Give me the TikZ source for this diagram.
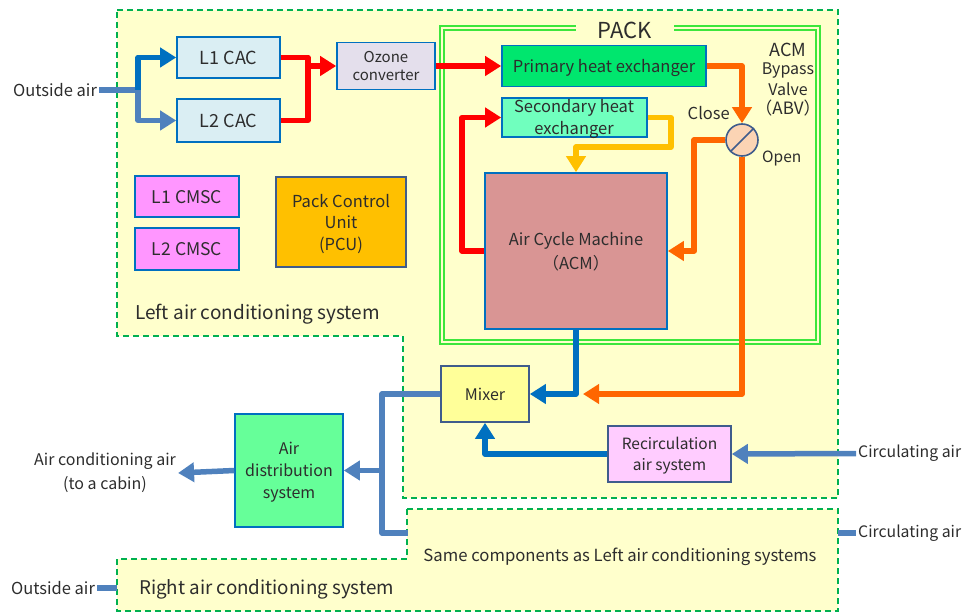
\documentclass[tikz,border=0pt]{standalone}
\usepackage{fontspec}
\setmainfont{Noto Sans CJK JP}
\usetikzlibrary{arrows.meta}
\definecolor{bgyel}{RGB}{255,255,204}
\definecolor{dgreen}{RGB}{0,176,80}
\definecolor{pgreen}{RGB}{60,230,60}
\definecolor{bblue}{RGB}{0,112,192}
\definecolor{sblue}{RGB}{79,129,189}
\definecolor{nblue}{RGB}{63,92,140}
\definecolor{txt}{RGB}{45,45,45}
\definecolor{cacfill}{RGB}{218,238,243}
\definecolor{ozfill}{RGB}{228,223,236}
\definecolor{primfill}{RGB}{0,230,110}
\definecolor{secfill}{RGB}{112,255,190}
\definecolor{acmfill}{RGB}{217,149,148}
\definecolor{cmscfill}{RGB}{255,150,255}
\definecolor{pcufill}{RGB}{255,192,0}
\definecolor{mixfill}{RGB}{255,255,153}
\definecolor{recfill}{RGB}{255,204,255}
\definecolor{adsfill}{RGB}{102,255,153}
\definecolor{valvefill}{RGB}{251,212,180}
\definecolor{redl}{RGB}{255,0,0}
\definecolor{orl}{RGB}{255,102,0}
\definecolor{aml}{RGB}{255,192,0}
\newcommand{\fs}[1]{\fontsize{#1}{#1}\selectfont}
\tikzset{
  region/.style={draw=dgreen, fill=bgyel, line width=1.8pt, dash pattern=on 6pt off 4pt},
  box/.style={draw=bblue, line width=1.6pt, align=center, inner sep=0pt, text=txt, font=\fs{16.5}, text depth=0pt},
  lbl/.style={text=txt, font=\fs{16.5}, align=center, inner sep=2pt},
  flow/.style={line width=5.5pt, line join=round},
  arr/.style={flow, -{Triangle[length=16pt,width=19pt]}},
}
\begin{document}
\begin{tikzpicture}[x=1pt,y=-1pt]
\useasboundingbox (0,0) rectangle (968,612);
% regions
\draw[region] (117,10) -- (838,10) -- (838,498) -- (403,498) -- (403,336) -- (117,336) -- cycle;
\draw[region] (407,509) -- (838,509) -- (838,611) -- (117,611) -- (117,559) -- (407,559) -- cycle;
% PACK frame
\draw[pgreen, line width=1.2pt] (440,26) rectangle (820,344);
\draw[pgreen, line width=1.2pt] (444,30) rectangle (816,340);
\node[fill=bgyel, text=txt, font=\fs{22}, minimum width=98pt, minimum height=14pt, inner sep=0pt] (pack) at (625,30) {PACK};
% boxes
\node[box, fill=cacfill, minimum width=103pt, minimum height=41pt, font=\fs{18}] (l1cac) at (228.5,57.5) {L1 CAC};
\node[box, fill=cacfill, minimum width=103pt, minimum height=43pt, font=\fs{18}] (l2cac) at (228.5,120.5) {L2 CAC};
\node[box, fill=ozfill, minimum width=98pt, minimum height=47pt, font=\fs{15}] (ozone) at (386,66) {Ozone\\[3pt]converter};
\node[box, fill=primfill, minimum width=204pt, minimum height=41pt] (prim) at (604,66) {Primary heat exchanger};
\node[box, fill=secfill, minimum width=145pt, minimum height=39pt] (sec) at (574.5,117.5) {};
\node[lbl] at (574,108) {Secondary heat};
\node[lbl] at (574,130) {exchanger};
\node[box, fill=acmfill, minimum width=182pt, minimum height=156pt] (acm) at (576,251) {Air Cycle Machine\\[5pt]（ACM）};
\node[draw=nblue, line width=1.6pt, fill=valvefill, circle, minimum size=32pt, inner sep=0pt] (valve) at (742,140) {};
\draw[nblue, line width=1.6pt] (valve.south west) -- (valve.north east);
\node[box, fill=cmscfill, minimum width=104pt, minimum height=41pt, font=\fs{17.5}] (l1cmsc) at (187,196.5) {L1 CMSC};
\node[box, fill=cmscfill, minimum width=104pt, minimum height=42pt, font=\fs{17.5}] (l2cmsc) at (187,249) {L2 CMSC};
\node[box, draw=nblue, fill=pcufill, minimum width=130pt, minimum height=90pt] (pcu) at (341,222) {Pack Control\\[5pt]Unit\\[5pt](PCU)};
\node[box, draw=nblue, fill=mixfill, minimum width=88pt, minimum height=56pt, font=\fs{16}] (mixer) at (485,394) {Mixer};
\node[box, draw=nblue, fill=recfill, minimum width=123pt, minimum height=56pt, font=\fs{15.5}] (recirc) at (669.5,454) {Recirculation\\[6pt]air system};
\node[box, fill=adsfill, minimum width=108pt, minimum height=113pt, font=\fs{16}] (ads) at (289,470.5) {Air\\[6pt]distribution\\[6pt]system};
% labels
\node[lbl] (out1) at (55,90) {Outside air};
\node[lbl, font=\fs{18}] (acmt) at (788,50) {ACM};
\node[lbl, font=\fs{16}] at (788,71) {Bypass};
\node[lbl, font=\fs{16}] at (788,89.5) {Valve};
\node[lbl, font=\fs{17}] at (788,108) {（ABV）};
\node[lbl, font=\fs{16.5}, anchor=east] (close) at (732,113) {Close};
\node[lbl, font=\fs{15.5}, anchor=west] (open) at (760,158) {Open};
\node[lbl, font=\fs{19}, anchor=west] (leftt) at (133,314) {Left air conditioning system};
\node[lbl, font=\fs{16}] (cabin) at (105,473) {Air conditioning air\\[6pt](to a cabin)};
\node[lbl, font=\fs{15.8}, anchor=west] (circ1) at (856,453.5) {Circulating air};
\node[lbl, font=\fs{15.8}, anchor=west] (circ2) at (856,533) {Circulating air};
\node[lbl, font=\fs{16.7}] (same) at (620,557) {Same components as Left air conditioning systems};
\node[lbl, font=\fs{18.8}, anchor=west] (rightt) at (137,589) {Right air conditioning system};
\node[lbl] (out2) at (53,588) {Outside air};
% coordinates
\coordinate (jo) at (138,90);
\coordinate (jr) at (308,66);
\coordinate (oend) at (583,394);
\coordinate (jb) at (382,533);
\coordinate (rl) at (408,533);
\coordinate (ja) at (382,470.5);
\coordinate (rr) at (838,533);
\coordinate (rb) at (117,588);
% connectors
\draw[flow, sblue] (out1.east) -- (jo);
\draw[arr, sblue] (jo) |- (l2cac.west);
\draw[arr, bblue] (jo) |- (l1cac.west);
\draw[flow, redl] (l1cac.east) -| (jr) |- (l2cac.east);
\draw[arr, redl] (jr) -- (ozone.west);
\draw[arr, redl] (ozone.east) -- (prim.west);
\draw[arr, orl] (prim.east) -| (valve.north);
\draw[arr, orl] (valve.west) -- ++(-31,0) |- (acm.east);
\draw[arr, orl] (valve.south) |- (oend);
\draw[arr, redl] (acm.west) -- ++(-22,0) |- (sec.west);
\draw[arr, aml] (sec.east) -- ++(23,0) -- ++(0,29.5) -| (acm.north);
\draw[arr, bblue] (acm.south) |- (mixer.east);
\draw[arr, bblue] (recirc.west) -| (mixer.south);
\draw[arr, sblue] (circ1.west) -- (recirc.east);
\draw[flow, sblue] (mixer.west) -| (jb) -- (rl);
\draw[arr, sblue] (ja) -- (ads.east);
\draw[arr, sblue] (ads.west) -- (cabin.east);
\draw[flow, sblue] (rr) -- (circ2.west);
\draw[flow, sblue] (out2.east) -- (rb);
\end{tikzpicture}
\end{document}
